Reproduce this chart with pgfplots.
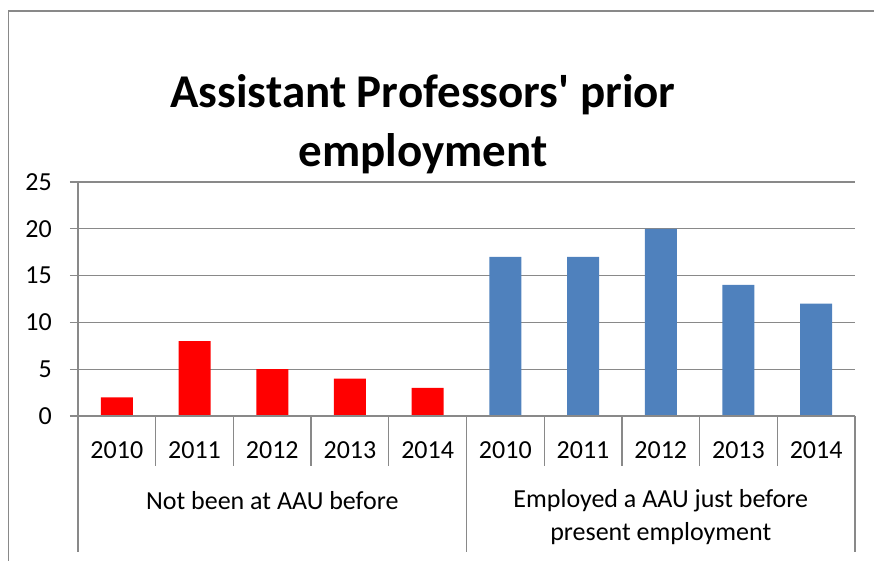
\documentclass[border=0pt]{standalone}
\usepackage{fontspec}
\setmainfont{Carlito}
\usepackage{pgfplots}
\pgfplotsset{compat=1.18}
\definecolor{xlblue}{HTML}{4F81BD}
\definecolor{xlgrid}{HTML}{898989}
\begin{document}
\begin{tikzpicture}
\useasboundingbox (0pt,0pt) rectangle (874pt,561pt);
% chart area frame (cut off at right and bottom)
\draw[xlgrid, line width=1.5pt] (8.5pt,0pt) -- (8.5pt,550pt) -- (874pt,550pt);
% title
\node[anchor=base, font=\bfseries\fontsize{47}{56}\selectfont, inner sep=0pt] at (423pt,453pt) {Assistant Professors\textquotesingle{} prior};
\node[anchor=base, font=\bfseries\fontsize{47}{56}\selectfont, inner sep=0pt] at (423pt,394pt) {employment};
\begin{axis}[
    at={(78pt,145pt)}, anchor=south west,
    scale only axis, width=777pt, height=234pt,
    xmin=-0.5, xmax=9.5, ymin=0, ymax=25,
    clip=false,
    axis line style={draw=none},
    ytick={0,5,10,15,20,25},
    ytick pos=left,
    tick align=outside,
    major tick length=8pt,
    ytick style={xlgrid, line width=1.3pt},
    ymajorgrids,
    grid style={xlgrid, line width=1.3pt},
    xtick={0,...,9},
    xticklabels={2010,2011,2012,2013,2014,2010,2011,2012,2013,2014},
    xtick style={draw=none},
    /pgf/number format/assume math mode=true,
    ticklabel style={font=\fontsize{26}{31}\selectfont},
    yticklabel style={inner sep=0pt, xshift=-18pt},
    xticklabel style={inner sep=0pt, yshift=-17pt},
]
\addplot[ybar, bar shift=0pt, bar width=32pt, fill=red, draw=none]
    coordinates {(0,2)(1,8)(2,5)(3,4)(4,3)};
\addplot[ybar, bar shift=0pt, bar width=32pt, fill=xlblue, draw=none]
    coordinates {(5,17)(6,17)(7,20)(8,14)(9,12)};
% axis lines and category separators
\draw[xlgrid, line width=1.3pt] (axis cs:-0.5,25) -- ([yshift=-136pt]axis cs:-0.5,0);
\draw[xlgrid, line width=1.3pt] (axis cs:-0.5,0) -- (axis cs:9.5,0);
\draw[xlgrid, line width=1.3pt] (axis cs:4.5,0) -- ([yshift=-136pt]axis cs:4.5,0);
\draw[xlgrid, line width=1.3pt] (axis cs:9.5,0) -- ([yshift=-136pt]axis cs:9.5,0);
\draw[xlgrid, line width=1.3pt] (axis cs:0.5,0) -- ([yshift=-50pt]axis cs:0.5,0);
\draw[xlgrid, line width=1.3pt] (axis cs:1.5,0) -- ([yshift=-50pt]axis cs:1.5,0);
\draw[xlgrid, line width=1.3pt] (axis cs:2.5,0) -- ([yshift=-50pt]axis cs:2.5,0);
\draw[xlgrid, line width=1.3pt] (axis cs:3.5,0) -- ([yshift=-50pt]axis cs:3.5,0);
\draw[xlgrid, line width=1.3pt] (axis cs:5.5,0) -- ([yshift=-50pt]axis cs:5.5,0);
\draw[xlgrid, line width=1.3pt] (axis cs:6.5,0) -- ([yshift=-50pt]axis cs:6.5,0);
\draw[xlgrid, line width=1.3pt] (axis cs:7.5,0) -- ([yshift=-50pt]axis cs:7.5,0);
\draw[xlgrid, line width=1.3pt] (axis cs:8.5,0) -- ([yshift=-50pt]axis cs:8.5,0);
% group labels
\node[anchor=base, inner sep=0pt, font=\fontsize{26}{31}\selectfont] at ([yshift=-93pt]axis cs:2,0) {Not been at AAU before};
\node[anchor=base, inner sep=0pt, font=\fontsize{26}{31}\selectfont] at ([yshift=-92pt]axis cs:7,0) {Employed a AAU just before};
\node[anchor=base, inner sep=0pt, font=\fontsize{26}{31}\selectfont] at ([yshift=-124pt]axis cs:7,0) {present employment};
\end{axis}
\end{tikzpicture}
\end{document}
